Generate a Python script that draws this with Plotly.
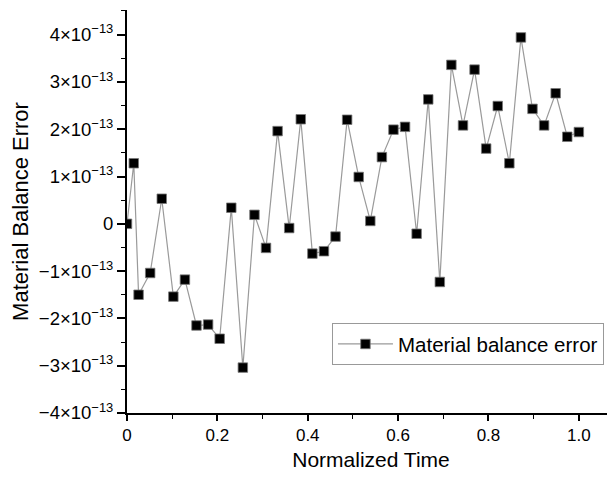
import plotly.graph_objects as go

# Normalized time values
time = [0.0, 0.015, 0.0256, 0.0513, 0.0769, 0.1026, 0.1282, 0.1538, 0.1795, 0.2051,
        0.2308, 0.2564, 0.2821, 0.3077, 0.3333, 0.3590, 0.3846, 0.4103, 0.4359, 0.4615,
        0.4872, 0.5128, 0.5385, 0.5641, 0.5897, 0.6154, 0.6410, 0.6667, 0.6923, 0.7179,
        0.7436, 0.7692, 0.7949, 0.8205, 0.8462, 0.8718, 0.8974, 0.9231, 0.9487, 0.9744, 1.0]
# Material balance error, in units of 1e-13
error_e13 = [0.0, 1.28, -1.50, -1.04, 0.53, -1.54, -1.18, -2.15, -2.13, -2.43,
             0.34, -3.04, 0.19, -0.51, 1.96, -0.09, 2.21, -0.63, -0.58, -0.27,
             2.20, 0.99, 0.06, 1.41, 1.99, 2.05, -0.21, 2.63, -1.23, 3.36,
             2.08, 3.26, 1.59, 2.49, 1.28, 3.94, 2.43, 2.08, 2.76, 1.84, 1.94]

y_tickvals = [-4, -3, -2, -1, 0, 1, 2, 3, 4]
y_ticktext = ["\u22124\u00d710<sup>\u221213</sup>", "\u22123\u00d710<sup>\u221213</sup>",
              "\u22122\u00d710<sup>\u221213</sup>", "\u22121\u00d710<sup>\u221213</sup>", "0",
              "1\u00d710<sup>\u221213</sup>", "2\u00d710<sup>\u221213</sup>",
              "3\u00d710<sup>\u221213</sup>", "4\u00d710<sup>\u221213</sup>"]
x_tickvals = [0, 0.2, 0.4, 0.6, 0.8, 1.0]
x_ticktext = ["0", "0.2", "0.4", "0.6", "0.8", "1.0"]

fig = go.Figure()
fig.add_trace(go.Scatter(
    x=time, y=error_e13, mode="lines+markers", name="Material balance error",
    line=dict(color="#9a9a9a", width=1.2),
    marker=dict(symbol="square", size=9.5, color="black", line=dict(color="#777", width=0.8)),
))

# page body has an 8px margin, so the figure is shifted by 8px
fig.update_layout(
    width=607, height=469,
    margin=dict(l=119, r=0, t=2, b=64),
    paper_bgcolor="white", plot_bgcolor="white",
    font=dict(family="Liberation Sans, Arial, sans-serif", color="black", size=17),
    showlegend=True,
    legend=dict(x=0.42, y=0.223, xanchor="left", yanchor="top",
                bordercolor="#999", borderwidth=1, bgcolor="white",
                font=dict(size=20.5), itemwidth=55),
)
fig.update_xaxes(
    range=[0, 1.08], tickmode="array", tickvals=x_tickvals, ticktext=x_ticktext,
    ticks="outside", ticklen=6, tickwidth=1.5, tickcolor="black",
    minor=dict(tickmode="linear", tick0=0, dtick=0.1, ticks="outside", ticklen=4, tickcolor="black", tickwidth=1.2),
    showline=True, linecolor="black", linewidth=2, showgrid=False, zeroline=False,
    tickfont=dict(size=17),
    title=dict(text="Normalized Time", font=dict(size=21), standoff=8),
)
fig.update_yaxes(
    range=[-4, 4.52], tickmode="array", tickvals=y_tickvals, ticktext=y_ticktext,
    ticks="outside", ticklen=8, tickwidth=1.5, tickcolor="black",
    minor=dict(tickmode="linear", tick0=0, dtick=0.5, ticks="outside", ticklen=4, tickcolor="black", tickwidth=1.2),
    showline=True, linecolor="black", linewidth=2, showgrid=False, zeroline=False,
    tickfont=dict(size=18.5),
    title=dict(text="Material Balance Error", font=dict(size=22), standoff=8),
)

fig.write_html("out.html")
